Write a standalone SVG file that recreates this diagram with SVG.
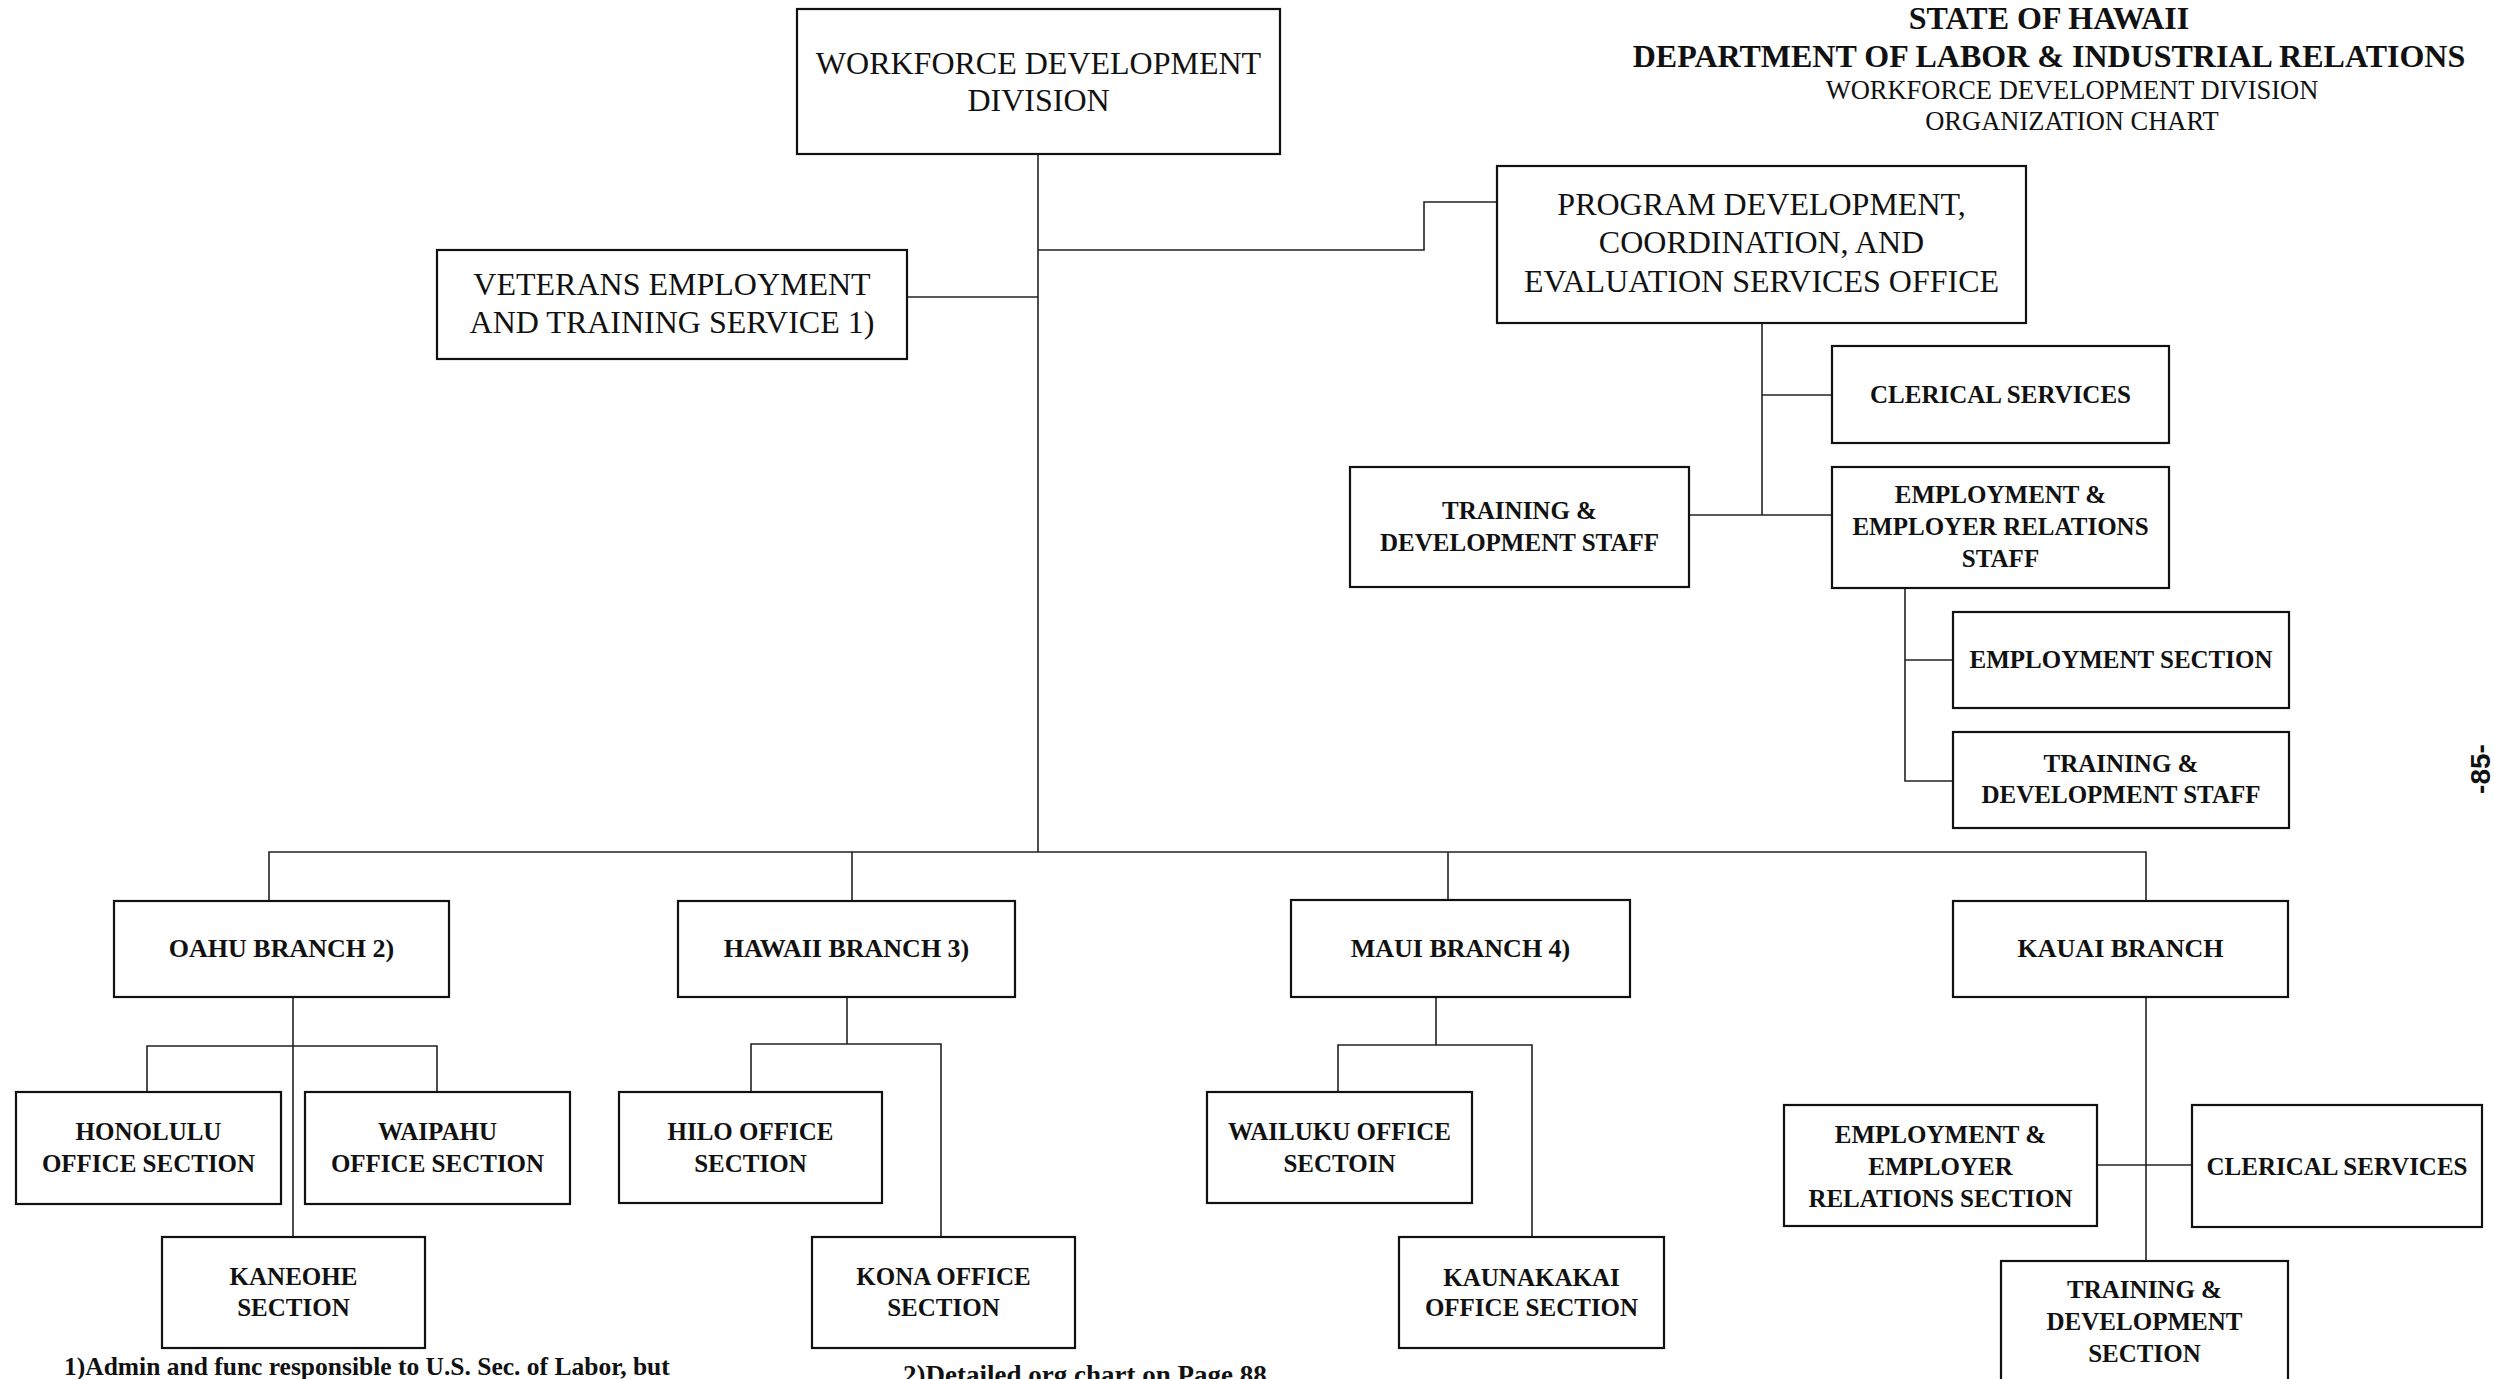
<svg xmlns="http://www.w3.org/2000/svg" width="2494" height="1379" viewBox="0 0 2494 1379">
<style>
.box{fill:#fff;stroke:#111;stroke-width:2.2}
.ln{fill:none;stroke:#222;stroke-width:1.6}
.t{font-family:"Liberation Serif","Times New Roman",serif;fill:#111;text-anchor:middle}
.big{font-size:32px}
.sm{font-size:25px;font-weight:bold}
.br{font-size:26px;font-weight:bold}
.tb{font-size:32px;font-weight:bold}
.ts{font-size:26.5px}
.fn{font-family:"Liberation Serif","Times New Roman",serif;fill:#111;font-weight:bold}
</style>
<rect width="2494" height="1379" fill="#fff"/>
<g id="title">
<text class="t tb" x="2049" y="29">STATE OF HAWAII</text>
<text class="t tb" x="2049" y="67">DEPARTMENT OF LABOR &amp; INDUSTRIAL RELATIONS</text>
<text class="t ts" x="2072" y="99">WORKFORCE DEVELOPMENT DIVISION</text>
<text class="t ts" x="2072" y="130">ORGANIZATION CHART</text>
</g>
<g id="connectors">
<path class="ln" d="M1038 154V852"/>
<path class="ln" d="M907 297H1038"/>
<path class="ln" d="M1038 250H1424V202H1497"/>
<path class="ln" d="M1762 323V515"/>
<path class="ln" d="M1762 395H1832"/>
<path class="ln" d="M1689 515H1832"/>
<path class="ln" d="M1905 588V781H1953"/>
<path class="ln" d="M1905 660H1953"/>
<path class="ln" d="M269 901V852H2146V901"/>
<path class="ln" d="M852 852V901"/>
<path class="ln" d="M1448 852V900"/>
<path class="ln" d="M293 997V1237"/>
<path class="ln" d="M147 1092V1046H437V1092"/>
<path class="ln" d="M847 997V1044"/>
<path class="ln" d="M751 1092V1044H941V1237"/>
<path class="ln" d="M1436 997V1045"/>
<path class="ln" d="M1338 1092V1045H1532V1237"/>
<path class="ln" d="M2146 997V1261"/>
<path class="ln" d="M2097 1165H2192"/>
</g>
<g id="wfd"><rect class="box" x="797" y="9" width="483" height="145"/>
<text class="t big" x="1038.5" y="74">WORKFORCE DEVELOPMENT</text>
<text class="t big" x="1038.5" y="111">DIVISION</text></g>
<g id="veterans"><rect class="box" x="437" y="250" width="470" height="109"/>
<text class="t big" x="672" y="295">VETERANS EMPLOYMENT</text>
<text class="t big" x="672" y="333">AND TRAINING SERVICE 1)</text></g>
<g id="pdce"><rect class="box" x="1497" y="166" width="529" height="157"/>
<text class="t big" x="1761.5" y="215">PROGRAM DEVELOPMENT,</text>
<text class="t big" x="1761.5" y="253">COORDINATION, AND</text>
<text class="t big" x="1761.5" y="292">EVALUATION SERVICES OFFICE</text></g>
<g id="pdce-clerical"><rect class="box" x="1832" y="346" width="337" height="97"/>
<text class="t sm" x="2000.5" y="403">CLERICAL SERVICES</text></g>
<g id="pdce-eers"><rect class="box" x="1832" y="467" width="337" height="121"/>
<text class="t sm" x="2000.5" y="503">EMPLOYMENT &amp;</text>
<text class="t sm" x="2000.5" y="535">EMPLOYER RELATIONS</text>
<text class="t sm" x="2000.5" y="567">STAFF</text></g>
<g id="pdce-td"><rect class="box" x="1350" y="467" width="339" height="120"/>
<text class="t sm" x="1519.5" y="519">TRAINING &amp;</text>
<text class="t sm" x="1519.5" y="551">DEVELOPMENT STAFF</text></g>
<g id="employment-section"><rect class="box" x="1953" y="612" width="336" height="96"/>
<text class="t sm" x="2121" y="668">EMPLOYMENT SECTION</text></g>
<g id="eers-td"><rect class="box" x="1953" y="732" width="336" height="96"/>
<text class="t sm" x="2121" y="772">TRAINING &amp;</text>
<text class="t sm" x="2121" y="803">DEVELOPMENT STAFF</text></g>
<g id="oahu"><rect class="box" x="114" y="901" width="335" height="96"/>
<text class="t br" x="281.5" y="957">OAHU BRANCH 2)</text></g>
<g id="hawaii"><rect class="box" x="678" y="901" width="337" height="96"/>
<text class="t br" x="846.5" y="957">HAWAII BRANCH 3)</text></g>
<g id="maui"><rect class="box" x="1291" y="900" width="339" height="97"/>
<text class="t br" x="1460.5" y="957">MAUI BRANCH 4)</text></g>
<g id="kauai"><rect class="box" x="1953" y="901" width="335" height="96"/>
<text class="t br" x="2120.5" y="957">KAUAI BRANCH</text></g>
<g id="honolulu"><rect class="box" x="16" y="1092" width="265" height="112"/>
<text class="t sm" x="148.5" y="1140">HONOLULU</text>
<text class="t sm" x="148.5" y="1172">OFFICE SECTION</text></g>
<g id="waipahu"><rect class="box" x="305" y="1092" width="265" height="112"/>
<text class="t sm" x="437.5" y="1140">WAIPAHU</text>
<text class="t sm" x="437.5" y="1172">OFFICE SECTION</text></g>
<g id="kaneohe"><rect class="box" x="162" y="1237" width="263" height="111"/>
<text class="t sm" x="293.5" y="1285">KANEOHE</text>
<text class="t sm" x="293.5" y="1316">SECTION</text></g>
<g id="hilo"><rect class="box" x="619" y="1092" width="263" height="111"/>
<text class="t sm" x="750.5" y="1140">HILO OFFICE</text>
<text class="t sm" x="750.5" y="1172">SECTION</text></g>
<g id="kona"><rect class="box" x="812" y="1237" width="263" height="111"/>
<text class="t sm" x="943.5" y="1285">KONA OFFICE</text>
<text class="t sm" x="943.5" y="1316">SECTION</text></g>
<g id="wailuku"><rect class="box" x="1207" y="1092" width="265" height="111"/>
<text class="t sm" x="1339.5" y="1140">WAILUKU OFFICE</text>
<text class="t sm" x="1339.5" y="1172">SECTOIN</text></g>
<g id="kaunakakai"><rect class="box" x="1399" y="1237" width="265" height="111"/>
<text class="t sm" x="1531.5" y="1286">KAUNAKAKAI</text>
<text class="t sm" x="1531.5" y="1316">OFFICE SECTION</text></g>
<g id="kauai-eers"><rect class="box" x="1784" y="1105" width="313" height="121"/>
<text class="t sm" x="1940.5" y="1143">EMPLOYMENT &amp;</text>
<text class="t sm" x="1940.5" y="1175">EMPLOYER</text>
<text class="t sm" x="1940.5" y="1207">RELATIONS SECTION</text></g>
<g id="kauai-clerical"><rect class="box" x="2192" y="1105" width="290" height="122"/>
<text class="t sm" x="2337" y="1175">CLERICAL SERVICES</text></g>
<g id="kauai-td"><rect class="box" x="2001" y="1261" width="287" height="140"/>
<text class="t sm" x="2144.5" y="1298">TRAINING &amp;</text>
<text class="t sm" x="2144.5" y="1330">DEVELOPMENT</text>
<text class="t sm" x="2144.5" y="1362">SECTION</text></g>
<g id="notes">
<text class="fn" x="64" y="1375" font-size="25.5">1)Admin and func responsible to U.S. Sec. of Labor, but</text>
<text class="fn" x="903" y="1384" font-size="27">2)Detailed org chart on Page 88</text>
<text x="0" y="0" transform="translate(2490,769) rotate(-90)" font-family="Liberation Sans,Arial,sans-serif" font-size="28" font-weight="bold" fill="#111" text-anchor="middle">-85-</text>
</g>
</svg>
